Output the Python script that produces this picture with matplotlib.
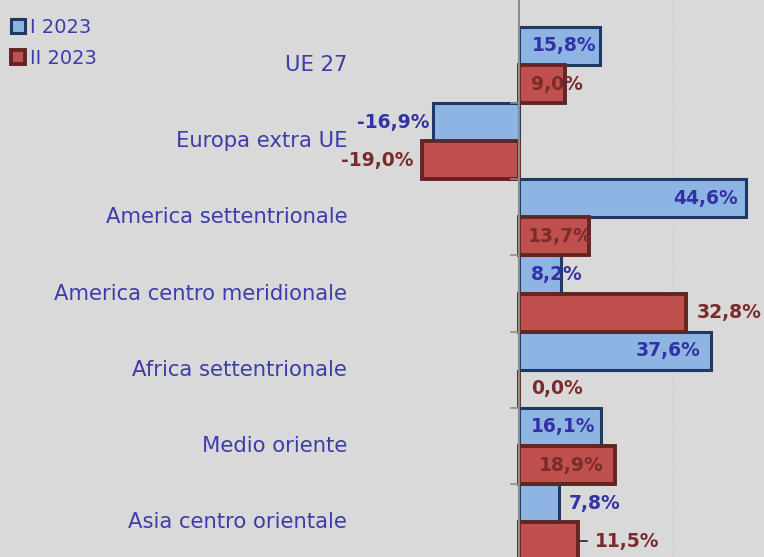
import matplotlib
matplotlib.use('Agg')
import matplotlib.pyplot as plt
import matplotlib.transforms as mtransforms

# Data (growth rates, %)
categories = ['UE 27', 'Europa extra UE', 'America settentrionale',
              'America centro meridionale', 'Africa settentrionale',
              'Medio oriente', 'Asia centro orientale']
series_names = ['I 2023', 'II 2023']
values_i = [15.8, -16.9, 44.6, 8.2, 37.6, 16.1, 7.8]
values_ii = [9.0, -19.0, 13.7, 32.8, 0.0, 18.9, 11.5]

# Label placement (alignment, offset in pixels from bar end)
place_i = [('right', -3), ('right', -4), ('right', -8), ('center', -4),
           ('right', -10), ('right', -6), ('left', 10)]
place_ii = [('right', 18), ('right', -9), ('right', 4), ('left', 11),
            ('left', 12), ('right', -12), ('left', 17)]

BG = '#d9d9d9'
BLUE_FILL, BLUE_EDGE, BLUE_TXT = '#8db4e2', '#1f3864', '#3232a6'
RED_FILL, RED_EDGE, RED_TXT = '#c0504d', '#632523', '#7a2b2b'
CAT_TXT = '#3c3caa'
FONT = 'DejaVu Sans'


def fmt(v):
    return f'{v:.1f}%'.replace('.', ',')


fig = plt.figure(figsize=(7.64, 5.57), dpi=100, facecolor=BG)
ax = fig.add_axes([0, 0, 1, 1], facecolor=BG)

n = len(categories)
ypos = list(range(n))
h = 0.5

ax.axvline(30, color='#c8c8c8', lw=0.8, ls=(0, (1, 2)), zorder=0)

ax.barh([y - h / 2 for y in ypos], values_i, height=h, color=BLUE_FILL,
        edgecolor=BLUE_EDGE, linewidth=2.2, zorder=2, label=series_names[0])
ax.barh([y + h / 2 for y in ypos], values_ii, height=h, color=RED_FILL,
        edgecolor=RED_EDGE, linewidth=2.8, zorder=2, label=series_names[1])

# zero axis and small ticks at category boundaries
ax.axvline(0, color='#8c8c8c', lw=1.5, zorder=3)
for y in ypos:
    ax.plot([-1.6, 0], [y + 0.5, y + 0.5], color='#8c8c8c', lw=1.2,
            zorder=3, clip_on=False)

for vals, places, dy, col in ((values_i, place_i, -h / 2, BLUE_TXT),
                              (values_ii, place_ii, h / 2, RED_TXT)):
    for y, v, (ha, dx) in zip(ypos, vals, places):
        tr = mtransforms.offset_copy(ax.transData, fig=fig, x=dx, y=0,
                                     units='dots')
        ax.text(v, y + dy, fmt(v), transform=tr, ha=ha, va='center',
                color=col, fontsize=13.5, fontweight='bold', family=FONT,
                zorder=4)

# leader line for the last label
ax.plot([values_ii[-1] + 0.4, values_ii[-1] + 1.8], [ypos[-1] + h / 2] * 2,
        color='#222222', lw=1.2, zorder=4)

for y, c in zip(ypos, categories):
    ax.text(-33.8, y, c, ha='right', va='center', color=CAT_TXT,
            fontsize=15.2, family=FONT)

ax.set_xlim(-102, 48.1)
ax.set_ylim(6.457, -0.853)
ax.axis('off')

# legend
ax.legend(loc='upper left', bbox_to_anchor=(-0.008, 0.999),
          frameon=False, handlelength=0.7, handleheight=0.7,
          handletextpad=0.25, labelspacing=0.6, borderpad=0.4,
          labelcolor=CAT_TXT, prop={'family': FONT, 'size': 14})

fig.savefig('out.png', dpi=100, facecolor=BG)
